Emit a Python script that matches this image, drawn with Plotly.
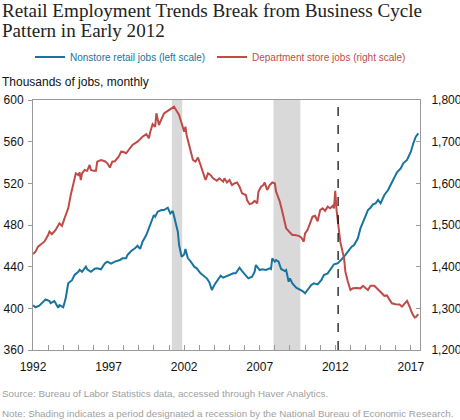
import plotly.graph_objects as go

# Nonstore retail employment, thousands (left scale)
NONSTORE_DATES = [
    "1992-01", "1992-03", "1992-06", "1992-09", "1992-11", "1993-02", "1993-03", "1993-06",
    "1993-09", "1993-10", "1994-01", "1994-03", "1994-05", "1994-08", "1994-10", "1995-01",
    "1995-02", "1995-04", "1995-07", "1995-08", "1995-11", "1996-02", "1996-04", "1996-07",
    "1996-10", "1996-12", "1997-03", "1997-06", "1997-10", "1997-12", "1998-03", "1998-04",
    "1998-07", "1998-10", "1998-12", "1999-02", "1999-04", "1999-07", "1999-09", "1999-11",
    "2000-01", "2000-02", "2000-04", "2000-07", "2000-09", "2000-12", "2001-02", "2001-04",
    "2001-06", "2001-08", "2001-09", "2001-11", "2002-01", "2002-02", "2002-04", "2002-06",
    "2002-09", "2002-11", "2003-02", "2003-05", "2003-07", "2003-09", "2003-11", "2004-01",
    "2004-04", "2004-06", "2004-08", "2004-10", "2005-01", "2005-04", "2005-06", "2005-09",
    "2005-11", "2006-02", "2006-04", "2006-07", "2006-09", "2006-10", "2007-01", "2007-03",
    "2007-06", "2007-09", "2007-10", "2007-11", "2008-01", "2008-02", "2008-04", "2008-06",
    "2008-09", "2008-10", "2008-12", "2009-01", "2009-03", "2009-06", "2009-08", "2009-11",
    "2010-01", "2010-03", "2010-06", "2010-08", "2010-11", "2011-02", "2011-04", "2011-07",
    "2011-10", "2011-12", "2012-03", "2012-05", "2012-08", "2012-11", "2013-02", "2013-04",
    "2013-07", "2013-09", "2013-12", "2014-03", "2014-05", "2014-07", "2014-09", "2014-11",
    "2015-01", "2015-04", "2015-07", "2015-09", "2015-12", "2016-02", "2016-05", "2016-07",
    "2016-10", "2017-01", "2017-03", "2017-05", "2017-07",
]
NONSTORE_JOBS = [
    403, 401, 402.5, 406, 408.6, 407, 405, 407,
    400.6, 403, 401, 409.6, 424, 427, 432, 435,
    437, 435, 440, 437.5, 435, 438, 438.5, 437.5,
    443, 444.8, 443, 444.8, 446.4, 448, 448, 451.2,
    455, 457.6, 460, 457, 464, 470.4, 476.8, 484.8,
    489.6, 488, 492.8, 494.4, 494.4, 496.6, 491, 493.4,
    484.8, 473.6, 460.8, 449.6, 451.8, 457, 448, 445.4,
    440, 438.4, 433.6, 430.4, 428.8, 425, 417.6, 422.4,
    427.2, 431.4, 429.4, 430.4, 431.4, 433.6, 433.6, 439,
    435.8, 432, 428.8, 430.4, 435.2, 441.6, 436.8, 437.4,
    436.8, 438.4, 437.8, 448, 444.8, 446.4, 444.8, 437.8,
    435.8, 436.8, 425.6, 428.8, 424, 419.8, 418.6, 416.6,
    414.4, 417.6, 422.4, 424, 423, 427.2, 432, 433.6,
    438.4, 442.3, 443.2, 445.4, 449.6, 454.4, 459.2, 460.8,
    467.2, 476.8, 486.4, 494.4, 496.6, 499.8, 500.8, 504,
    500.8, 508.8, 513.6, 519, 525.4, 530.6, 534.4, 539.2,
    542.4, 550.4, 558.4, 564.8, 568,
]

# Department store employment, thousands (right scale)
DEPT_DATES = [
    "1992-01", "1992-03", "1992-05", "1992-07", "1992-10", "1993-01", "1993-02", "1993-04",
    "1993-07", "1993-10", "1993-12", "1994-02", "1994-05", "1994-07", "1994-09", "1994-11",
    "1995-01", "1995-02", "1995-03", "1995-04", "1995-06", "1995-08", "1995-10", "1995-11",
    "1996-01", "1996-03", "1996-04", "1996-07", "1996-10", "1996-12", "1997-02", "1997-04",
    "1997-06", "1997-09", "1997-11", "1998-01", "1998-03", "1998-05", "1998-08", "1998-12",
    "1999-04", "1999-07", "1999-09", "1999-10", "1999-12", "2000-02", "2000-03", "2000-05",
    "2000-07", "2000-09", "2000-12", "2001-03", "2001-05", "2001-07", "2001-09", "2001-11",
    "2002-01", "2002-02", "2002-03", "2002-05", "2002-08", "2002-10", "2002-12", "2003-02",
    "2003-04", "2003-06", "2003-08", "2003-10", "2003-12", "2004-03", "2004-05", "2004-08",
    "2004-09", "2004-11", "2005-01", "2005-03", "2005-05", "2005-07", "2005-09", "2005-11",
    "2006-02", "2006-03", "2006-05", "2006-07", "2006-09", "2006-11", "2006-12", "2007-02",
    "2007-04", "2007-05", "2007-07", "2007-09", "2007-11", "2008-01", "2008-02", "2008-05",
    "2008-07", "2008-09", "2008-10", "2009-01", "2009-03", "2009-05", "2009-08", "2009-10",
    "2009-12", "2010-01", "2010-03", "2010-05", "2010-07", "2010-09", "2010-11", "2011-01",
    "2011-03", "2011-05", "2011-07", "2011-09", "2011-11", "2011-12", "2012-01", "2012-02",
    "2012-03", "2012-05", "2012-08", "2012-09", "2012-11", "2013-01", "2013-03", "2013-06",
    "2013-09", "2013-11", "2014-01", "2014-03", "2014-05", "2014-08", "2014-11", "2015-01",
    "2015-04", "2015-06", "2015-08", "2015-10", "2016-01", "2016-04", "2016-06", "2016-08",
    "2016-10", "2016-12", "2017-02", "2017-04", "2017-05", "2017-07",
]
DEPT_JOBS = [
    1430, 1436, 1448, 1452, 1460, 1476, 1484, 1478,
    1488, 1504, 1498, 1516, 1540, 1572, 1596, 1624,
    1620, 1626, 1608, 1624, 1632, 1630, 1644, 1632,
    1630, 1630, 1652, 1656, 1653, 1648, 1638, 1652,
    1653, 1664, 1676, 1675, 1672, 1680, 1692, 1700,
    1712, 1718, 1708, 1722, 1742, 1736, 1768, 1740,
    1756, 1768, 1774, 1780, 1784, 1774, 1764, 1744,
    1724, 1736, 1716, 1692, 1656, 1652, 1662, 1644,
    1624, 1608, 1624, 1620, 1612, 1606, 1612, 1604,
    1612, 1602, 1608, 1596, 1600, 1602, 1592, 1576,
    1572, 1560, 1550, 1552, 1558, 1552, 1580, 1592,
    1596, 1602, 1584, 1596, 1602, 1600, 1580, 1556,
    1532, 1508, 1492, 1482, 1476, 1476, 1474, 1470,
    1460, 1480, 1488, 1504, 1520, 1522, 1509, 1536,
    1540, 1534, 1544, 1540, 1546, 1540, 1582, 1536,
    1508, 1460, 1420, 1388, 1364, 1344, 1348, 1349,
    1348, 1354, 1349, 1344, 1354, 1354, 1345, 1338,
    1330, 1331, 1322, 1312, 1310, 1309, 1304, 1312,
    1318, 1304, 1288, 1278, 1279, 1286,
]

RECESSIONS = [("2001-03-10", "2001-11-15"), ("2007-12-01", "2009-09-10")]
BREAK_DATE = "2012-03-10"
YEARS = list(range(1992, 2018))
LABEL_EVERY = 5

BLUE = "#18749e"
RED = "#bf4b48"
AXIS_GRAY = "#999999"

# plot area in pixels (460 x 420 page)
W, H = 460, 420
L, R, T, B = 33, 40, 100, 70
PW, PH = W - L - R, H - T - B


def px_x(px):
    return (px - L) / PW


def px_y(py):
    return (H - B - py) / PH


fig = go.Figure()

fig.add_trace(go.Scatter(
    x=NONSTORE_DATES, y=NONSTORE_JOBS, mode="lines",
    name="<span style='color:%s'>Nonstore retail jobs (left scale)</span>" % BLUE,
    line=dict(color=BLUE, width=2), legend="legend",
))
fig.add_trace(go.Scatter(
    x=DEPT_DATES, y=DEPT_JOBS, mode="lines", yaxis="y2",
    name="<span style='color:%s'>Department store jobs (right scale)</span>" % RED,
    line=dict(color=RED, width=2), legend="legend2",
))

# recession shading
for start, end in RECESSIONS:
    fig.add_vrect(x0=start, x1=end, fillcolor="#d9d9d9", line_width=0, layer="below")

# break point
fig.add_vline(x=BREAK_DATE, line=dict(color="black", width=1.2, dash="dash"))

legend_style = dict(
    orientation="h", yanchor="middle", y=px_y(57), xanchor="left",
    font=dict(size=10), itemwidth=30, bgcolor="rgba(0,0,0,0)",
)

fig.update_layout(
    width=W, height=H,
    margin=dict(l=L, r=R, t=T, b=B, autoexpand=False),
    paper_bgcolor="white", plot_bgcolor="white",
    font=dict(family="Liberation Sans, Arial", size=12, color="#111"),
    showlegend=True,
    legend=dict(legend_style, x=px_x(30)),
    legend2=dict(legend_style, x=px_x(212)),
    xaxis=dict(
        type="date", range=["1992-01-01", "2017-08-10"],
        tickvals=["%d-01-01" % y for y in YEARS],
        ticktext=[str(y) if (y - YEARS[0]) % LABEL_EVERY == 0 else "" for y in YEARS],
        ticks="inside", ticklen=5, tickcolor=AXIS_GRAY,
        showline=True, linecolor=AXIS_GRAY, linewidth=1, mirror=True,
        showgrid=False, zeroline=False, ticklabelstandoff=6, automargin=False,
    ),
    yaxis=dict(
        range=[360, 600], dtick=40, tick0=360,
        ticks="outside", ticklen=4, tickcolor=AXIS_GRAY,
        showline=True, linecolor=AXIS_GRAY, linewidth=1,
        showgrid=False, zeroline=False, ticklabelstandoff=2, automargin=False,
    ),
    yaxis2=dict(
        range=[1200, 1800], dtick=100, tick0=1200, tickformat=",",
        overlaying="y", side="right",
        ticks="inside", ticklen=4, tickcolor=AXIS_GRAY,
        showline=True, linecolor=AXIS_GRAY, linewidth=1,
        showgrid=False, zeroline=False, ticklabelstandoff=8, automargin=False,
    ),
)

title_font = dict(family="Liberation Serif, Georgia, serif", size=19.1, color="#222")
fig.add_annotation(
    text="Retail Employment Trends Break from Business Cycle",
    xref="paper", yref="paper", x=px_x(0), y=px_y(11), xanchor="left", yanchor="middle",
    showarrow=False, font=title_font,
)
fig.add_annotation(
    text="Pattern in Early 2012",
    xref="paper", yref="paper", x=px_x(0), y=px_y(30), xanchor="left", yanchor="middle",
    showarrow=False, font=title_font,
)
fig.add_annotation(
    text="Thousands of jobs, monthly", xref="paper", yref="paper",
    x=px_x(0), y=px_y(82), xanchor="left", yanchor="middle",
    showarrow=False, font=dict(size=12, color="#111"),
)
fig.add_annotation(
    text="Source: Bureau of Labor Statistics data, accessed through Haver Analytics.",
    xref="paper", yref="paper", x=px_x(0), y=px_y(393), xanchor="left", yanchor="middle",
    showarrow=False, font=dict(size=9.8, color="#a0a0a0"),
)
fig.add_annotation(
    text="Note: Shading indicates a period designated a recession by the National Bureau of Economic Research.",
    xref="paper", yref="paper", x=px_x(0), y=px_y(413), xanchor="left", yanchor="middle",
    showarrow=False, font=dict(size=9.8, color="#a0a0a0"),
)

# the page's default body margin would push the figure 8px off the window
fig.write_html(
    "out.html",
    config={"displayModeBar": False},
    post_script="document.body.style.margin='0';",
)
